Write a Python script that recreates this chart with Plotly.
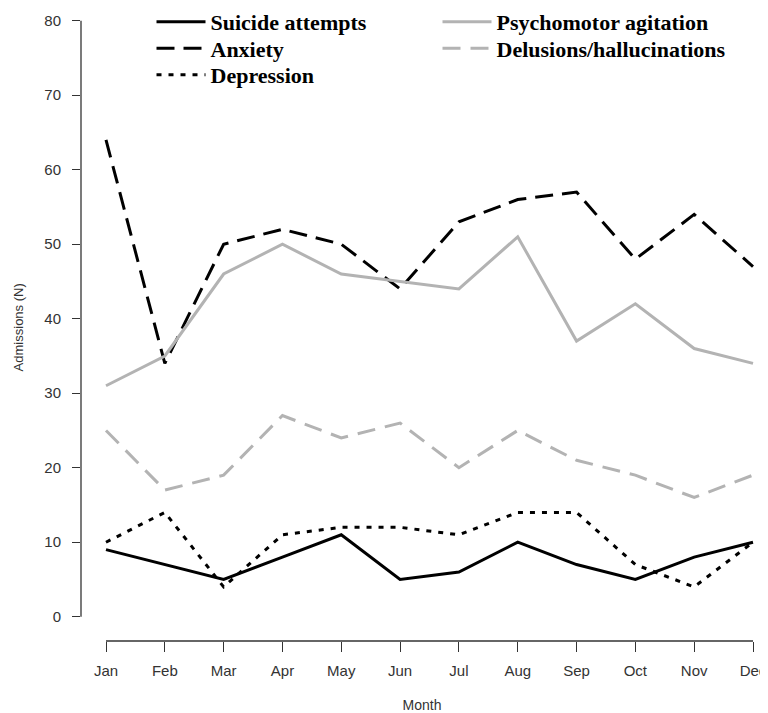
import plotly.graph_objects as go

months = ["Jan", "Feb", "Mar", "Apr", "May", "Jun", "Jul", "Aug", "Sep", "Oct", "Nov", "Dec"]
suicide = [9, 7, 5, 8, 11, 5, 6, 10, 7, 5, 8, 10]
anxiety = [64, 34, 50, 52, 50, 44, 53, 56, 57, 48, 54, 47]
depression = [10, 14, 4, 11, 12, 12, 11, 14, 14, 7, 4, 10]
psychomotor = [31, 35, 46, 50, 46, 45, 44, 51, 37, 42, 36, 34]
delusions = [25, 17, 19, 27, 24, 26, 20, 25, 21, 19, 16, 19]
y_ticks = [0, 10, 20, 30, 40, 50, 60, 70, 80]

x = list(range(len(months)))
GRAY = "#b3b3b3"
AXC = "#333333"

# (name, values, colour, dash, legend id)
series = [
    ("Suicide attempts", suicide, "black", "solid", "legend"),
    ("Anxiety", anxiety, "black", "18px,9px", "legend2"),
    ("Depression", depression, "black", "5px,7px", "legend3"),
    ("Psychomotor agitation", psychomotor, GRAY, "solid", "legend4"),
    ("Delusions/hallucinations", delusions, GRAY, "18px,10px", "legend5"),
]

fig = go.Figure()
for name, vals, col, dash, leg in series:
    fig.add_trace(go.Scatter(
        x=x, y=vals, mode="lines", name=name,
        line=dict(color=col, width=3, dash=dash),
        legend=leg,
    ))

W, H = 760, 705
legend_font = dict(family="Liberation Serif", size=22, color="black", weight="bold")
col_x = [143.5 / W, 429.5 / W]
row_y = [1 - 14 / H, 1 - 40.5 / H, 1 - 67 / H]
leg_pos = {
    "legend": (col_x[0], row_y[0]),
    "legend2": (col_x[0], row_y[1]),
    "legend3": (col_x[0], row_y[2]),
    "legend4": (col_x[1], row_y[0]),
    "legend5": (col_x[1], row_y[1]),
}
legends = {}
for key, (lx, ly) in leg_pos.items():
    legends[key] = dict(x=lx, y=ly, xanchor="left", yanchor="middle",
                        xref="container", yref="container",
                        font=legend_font, bgcolor="rgba(0,0,0,0)",
                        itemwidth=49)

tickfont = dict(family="Liberation Sans", size=15, color=AXC)
fig.update_layout(
    width=W, height=H,
    margin=dict(l=73, r=5, t=2, b=72, autoexpand=False),
    plot_bgcolor="white", paper_bgcolor="white",
    showlegend=True,
    **legends,
    xaxis=dict(
        range=[-0.425, 11.17], tickmode="array", tickvals=x, ticktext=months,
        showgrid=False, zeroline=False, showline=False, automargin=False,
        ticks="outside", ticklen=10, tickcolor=AXC, tickwidth=1,
        ticklabelstandoff=6, ticklabeloverflow="allow",
        tickfont=tickfont,
        title=dict(text="Month", font=dict(family="Liberation Sans", size=14, color=AXC), standoff=22),
    ),
    yaxis=dict(
        range=[-3.26, 81.44], tickmode="array", tickvals=y_ticks,
        showgrid=False, zeroline=False, showline=False, automargin=False,
        ticks="outside", ticklen=8, tickcolor=AXC, tickwidth=1,
        ticklabelstandoff=8,
        tickfont=tickfont,
    ),
    annotations=[dict(
        text="Admissions (N)", textangle=-90, showarrow=False,
        xref="paper", yref="paper", x=-0.0924, y=0.497,
        xanchor="center", yanchor="middle",
        font=dict(family="Liberation Sans", size=13, color=AXC),
    )],
)
# R-style detached axis lines spanning the tick range
fig.add_shape(type="line", xref="paper", yref="y", x0=0, x1=0, y0=0, y1=80,
              line=dict(color=AXC, width=1.3))
fig.add_shape(type="line", xref="x", yref="paper", x0=0, x1=11, y0=0, y1=0,
              line=dict(color=AXC, width=1.3))

fig.write_html("out.html")
